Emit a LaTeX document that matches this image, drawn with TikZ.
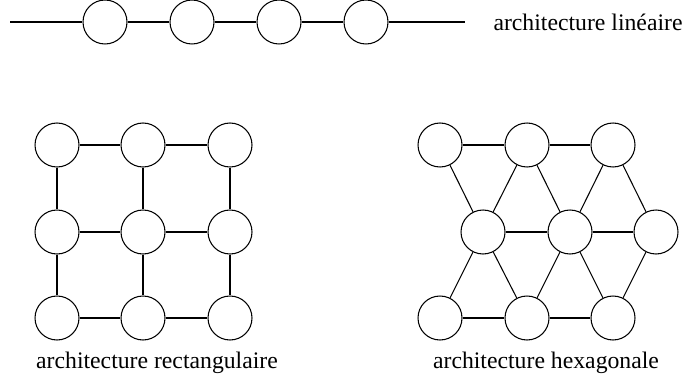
\documentclass[tikz,border=0pt]{standalone}
\usepackage{fontspec}
\setmainfont{Liberation Serif}
\begin{document}
\begin{tikzpicture}[x=0.02cm, y=-0.02cm, line width=0.6pt,
  proc/.style={draw, circle, minimum size=0.88cm, inner sep=0pt},
  legende/.style={font=\fontsize{13.5}{16}\selectfont, inner sep=0pt}]
\useasboundingbox (0,0) rectangle (685,378);
% lineaire
\coordinate (lg) at (10,22);
\coordinate (ld) at (465,22);
\foreach \i/\x in {1/105,2/192,3/279,4/366}
  \node[proc] (l\i) at (\x,22) {};
\draw (lg) -- (l1) -- (l2) -- (l3) -- (l4) -- (ld);
\node[legende, anchor=west] (tlin) at (493,22) {architecture linéaire};
% rectangulaire
\foreach \i/\y in {1/145,2/232,3/318}
  \foreach \j/\x in {1/57,2/143,3/230}
    \node[proc] (r\i\j) at (\x,\y) {};
\foreach \i in {1,2,3} {
  \draw (r\i1) -- (r\i2) -- (r\i3);
  \draw (r1\i) -- (r2\i) -- (r3\i);
}
\node[legende] (trect) at (157,363) {architecture rectangulaire};
% hexagonale
\foreach \i/\y/\d in {1/145/0,2/232/43,3/318/0}
  \foreach \j/\x in {1/440,2/527,3/613}
    \node[proc] (h\i\j) at (\x+\d,\y) {};
\foreach \i in {1,2,3}
  \draw (h\i1) -- (h\i2) -- (h\i3);
\foreach \a/\b in {11/21,12/21,12/22,13/22,13/23,31/21,32/21,32/22,33/22,33/23}
  \draw (h\a) -- (h\b);
\node[legende] (thex) at (546,363) {architecture hexagonale};
\end{tikzpicture}
\end{document}
